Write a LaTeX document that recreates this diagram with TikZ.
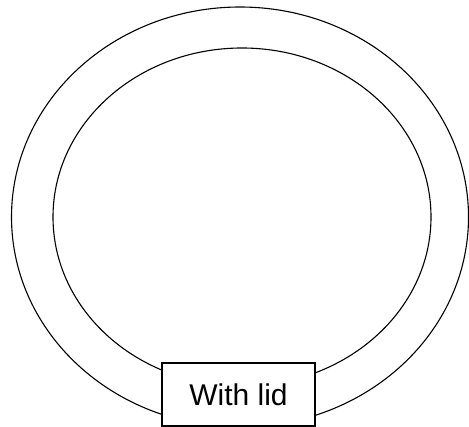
\documentclass[tikz,border=0pt]{standalone}
\usepackage{fontspec}
\setmainfont{Liberation Sans}
\usetikzlibrary{shapes.geometric}
\begin{document}
\begin{tikzpicture}[x=1pt,y=-1pt,
  ring/.style={draw=black,line width=1.1pt,ellipse,inner sep=0pt},
  lidbox/.style={draw=black,fill=white,line width=1.1pt,minimum width=153pt,minimum height=63pt,inner sep=0pt,font=\fontsize{30}{30}\selectfont}]
\useasboundingbox (0,0) rectangle (469,427);
\node[ring,minimum width=457pt,minimum height=420pt] (outer) at (240,217) {};
\node[ring,minimum width=378pt,minimum height=338pt] (inner) at (242,217) {};
\node[lidbox] (lid) at (238.5,394.5) {With lid};
\end{tikzpicture}
\end{document}
